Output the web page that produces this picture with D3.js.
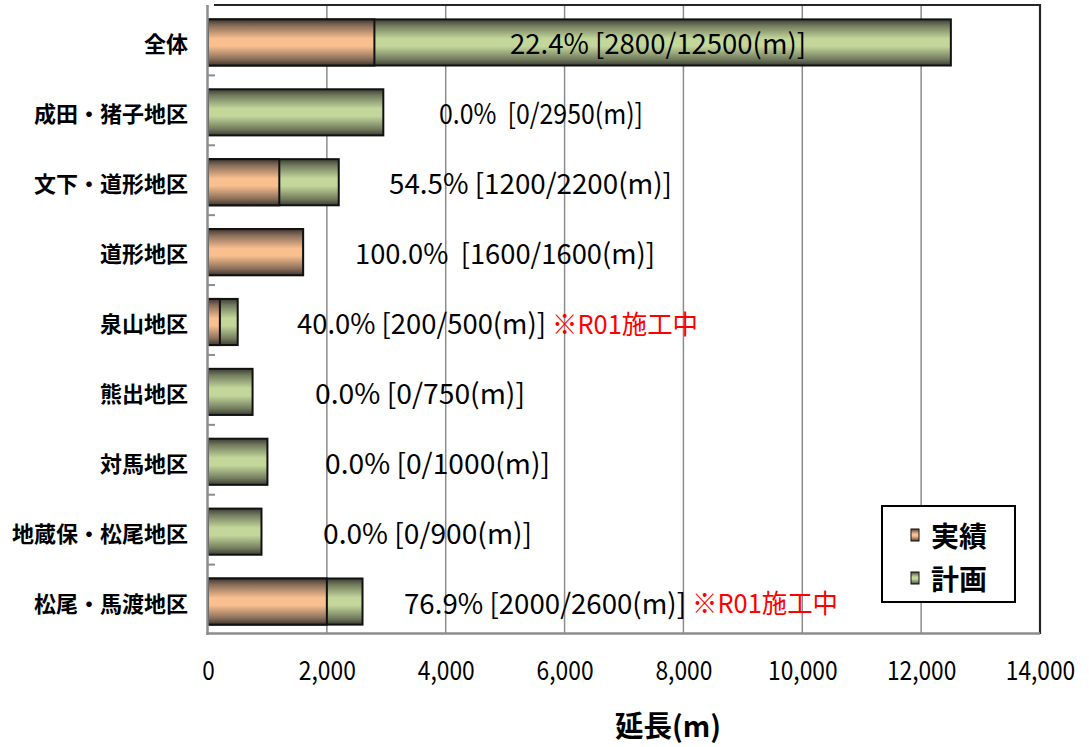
<!DOCTYPE html>
<html>
<head>
<meta charset="utf-8">
<script src="https://cdn.jsdelivr.net/npm/d3@7"></script>
<style>
  body { margin: 0; background: #fff; }
  svg text { font-family: "Noto Sans CJK JP", "Noto Sans", sans-serif; }
</style>
</head>
<body>
<svg id="chart" width="1089" height="747"></svg>
<script>
// ---- data ----
const districts = ["全体", "成田・猪子地区", "文下・道形地区", "道形地区", "泉山地区",
                   "熊出地区", "対馬地区", "地蔵保・松尾地区", "松尾・馬渡地区"];
const actual  = [2800, 0, 1200, 1600, 200, 0, 0, 0, 2000];          // 実績 (m)
const planned = [12500, 2950, 2200, 1600, 500, 750, 1000, 900, 2600]; // 計画 (m)
const notes   = ["", "", "", "", "※R01施工中", "", "", "", "※R01施工中"];
const xTicks  = [0, 2000, 4000, 6000, 8000, 10000, 12000, 14000];
const seriesNames = ["実績", "計画"];
const axisTitle = "延長(m)";

// ---- label layout (left edge px, width px, spaces after %) ----
const labelLeft  = [510, 439, 389, 355, 297, 315, 325, 323, 404];
const labelWidth = [296, 204, 283, 300, 249, 210, 225, 209, 282];
const labelSpaces = [1, 2, 1, 2, 1, 1, 1, 1, 1];
const noteWidth = 146;

// ---- layout ----
const plot = { left: 208, right: 1040, top: 5, bottom: 634 };

const svg = d3.select("#chart");

const x = d3.scaleLinear().domain([0, 14000]).range([plot.left, plot.right]);
const y = d3.scaleBand().domain(districts).range([plot.top, plot.bottom])
  .paddingInner(0.34).paddingOuter(0.17);
const barShift = 2.5;

// gradients: dark edges, light centre band
const defs = svg.append("defs");
function gradient(id, edge, mid, light) {
  const g = defs.append("linearGradient").attr("id", id)
    .attr("x1", 0).attr("y1", 0).attr("x2", 0).attr("y2", 1);
  [[0, edge], [0.14, mid], [0.42, light], [0.58, light], [0.86, mid], [1, edge]]
    .forEach(([o, c]) => g.append("stop").attr("offset", o).attr("stop-color", c));
}
gradient("gActual", "#3f3630", "#8a6f5a", "#F9BF8F");
gradient("gPlan", "#3a3e33", "#737d5f", "#C4D79B");

// gridlines
svg.append("g").selectAll("line")
  .data(xTicks.filter(t => t > 0 && t < 14000))
  .join("line")
  .attr("x1", d => x(d)).attr("x2", d => x(d))
  .attr("y1", plot.top).attr("y2", plot.bottom)
  .attr("stroke", "#8c8c8c").attr("stroke-width", 1.5);

// frame (top/right)
svg.append("path")
  .attr("d", `M${plot.left + 6},${plot.top}H${plot.right}V${plot.bottom}`)
  .attr("fill", "none").attr("stroke", "#262626").attr("stroke-width", 2.2);

// bars: plan underneath, actual drawn over it
const rows = districts.map((d, i) => ({ d, i, a: actual[i], p: planned[i] }));
const gBars = svg.append("g");
gBars.selectAll("rect.plan").data(rows).join("rect").attr("class", "plan")
  .attr("x", x(0)).attr("y", r => y(r.d) + barShift)
  .attr("width", r => x(r.p) - x(0)).attr("height", y.bandwidth())
  .attr("fill", "url(#gPlan)").attr("stroke", "#111").attr("stroke-width", 2);
gBars.selectAll("rect.act").data(rows.filter(r => r.a > 0)).join("rect").attr("class", "act")
  .attr("x", x(0)).attr("y", r => y(r.d) + barShift)
  .attr("width", r => x(r.a) - x(0)).attr("height", y.bandwidth())
  .attr("fill", "url(#gActual)").attr("stroke", "#111").attr("stroke-width", 2);

// axis lines (grey)
svg.append("line").attr("x1", plot.left - 0.5).attr("x2", plot.left - 0.5)
  .attr("y1", plot.top).attr("y2", plot.bottom + 1)
  .attr("stroke", "#8c8c8c").attr("stroke-width", 2.5);
svg.append("line").attr("x1", plot.left - 1.5).attr("x2", plot.right)
  .attr("y1", plot.bottom - 0.5).attr("y2", plot.bottom - 0.5)
  .attr("stroke", "#8c8c8c").attr("stroke-width", 2.5);
// category boundary ticks
const step = y.step();
svg.append("g").selectAll("line")
  .data(d3.range(1, districts.length))
  .join("line")
  .attr("x1", plot.left).attr("x2", plot.left + 7)
  .attr("y1", i => y(districts[i]) - step * y.paddingInner() / 2 + 0.5)
  .attr("y2", i => y(districts[i]) - step * y.paddingInner() / 2 + 0.5)
  .attr("stroke", "#8c8c8c").attr("stroke-width", 2);

// category labels
svg.append("g").selectAll("text").data(rows).join("text")
  .attr("x", 188).attr("y", r => y(r.d) + barShift + y.bandwidth() / 2)
  .attr("text-anchor", "end").attr("dominant-baseline", "central")
  .attr("font-size", 22).attr("font-weight", 700).attr("fill", "#000")
  .text(r => r.d);

// x axis tick labels
const xAxis = d3.axisBottom(x).tickValues(xTicks).tickSize(0).tickPadding(0)
  .tickFormat(d3.format(","));
const gx = svg.append("g").attr("transform", `translate(0,${plot.bottom})`).call(xAxis);
gx.select(".domain").remove();
gx.selectAll("text")
  .attr("y", 34).attr("dy", null).attr("dominant-baseline", "central")
  .attr("font-size", 27).attr("fill", "#000")
  .attr("font-family", "'Noto Sans CJK JP', sans-serif")
  .attr("lengthAdjust", "spacingAndGlyphs")
  .attr("textLength", function (d) {
    const s = d3.format(",")(d);
    return [...s].reduce((w, c) => w + (c === "," ? 7 : 12.5), 0);
  });

// axis title
svg.append("text").attr("x", 615).attr("y", 724)
  .attr("dominant-baseline", "central")
  .attr("font-size", 29).attr("font-weight", 700).attr("fill", "#000")
  .attr("textLength", 106).attr("lengthAdjust", "spacingAndGlyphs")
  .text(axisTitle);

// value labels: rate [actual/planned(m)], with an optional red note after it
const gLab = svg.append("g");
rows.forEach(r => {
  const pct = (r.a / r.p * 100).toFixed(1) + "%";
  const txt = pct + "\u00a0".repeat(labelSpaces[r.i]) + `[${r.a}/${r.p}(m)]`;
  const cy = y(r.d) + barShift + y.bandwidth() / 2;
  gLab.append("text")
    .attr("x", labelLeft[r.i]).attr("y", cy)
    .attr("dominant-baseline", "central")
    .attr("font-size", 28).attr("fill", "#000")
    .attr("textLength", labelWidth[r.i]).attr("lengthAdjust", "spacingAndGlyphs")
    .text(txt);
  if (notes[r.i]) {
    gLab.append("text")
      .attr("x", labelLeft[r.i] + labelWidth[r.i] + 6).attr("y", cy)
      .attr("dominant-baseline", "central")
      .attr("font-size", 26).attr("fill", "#ff0000")
      .attr("textLength", noteWidth).attr("lengthAdjust", "spacingAndGlyphs")
      .text(notes[r.i]);
  }
});

// legend
const lg = svg.append("g");
lg.append("rect").attr("x", 882).attr("y", 506).attr("width", 133).attr("height", 96)
  .attr("fill", "#fff").attr("stroke", "#000").attr("stroke-width", 2);
const legendFill = ["url(#gActual)", "url(#gPlan)"];
seriesNames.forEach((name, i) => {
  const cy = 535 + i * 43;
  lg.append("rect").attr("x", 911).attr("y", cy - 6).attr("width", 8).attr("height", 12)
    .attr("fill", legendFill[i]).attr("stroke", "#111").attr("stroke-width", 1);
  lg.append("text").attr("x", 931).attr("y", cy)
    .attr("dominant-baseline", "central")
    .attr("font-size", 28).attr("font-weight", 700).attr("fill", "#000")
    .text(name);
});
</script>
</body>
</html>
